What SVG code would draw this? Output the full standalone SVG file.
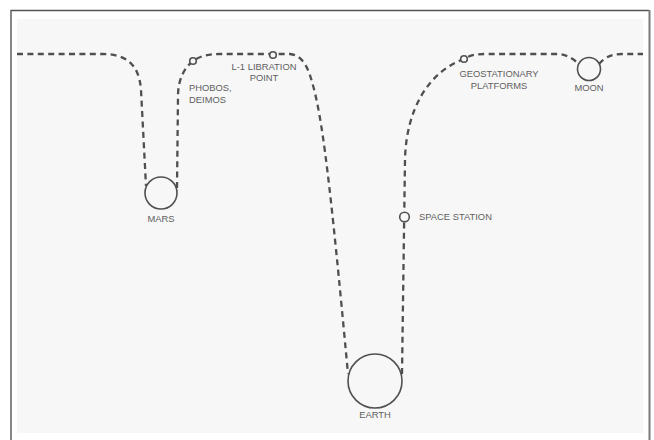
<svg xmlns="http://www.w3.org/2000/svg" width="654" height="440" viewBox="0 0 654 440">
  <defs>
    <style>
      .frame { fill: none; stroke: #555; stroke-width: 1.4; }
      .orbit { fill: none; stroke: #4f4f4f; stroke-width: 2.3; stroke-dasharray: 6 4.4; stroke-linecap: butt; }
      .body { fill: #f7f7f7; stroke: #505050; stroke-width: 1.6; }
      .point { fill: #f7f7f7; stroke: #505050; stroke-width: 1.6; }
      .label { font-family: "Liberation Sans", Arial, sans-serif; font-size: 9.4px; fill: #5e5e5e; }
    </style>
  </defs>

  <!-- page and frame -->
  <rect x="0" y="0" width="654" height="440" fill="#ffffff"/>
  <rect x="17" y="19" width="626" height="414" fill="#f7f7f7"/>
  <path class="frame" d="M11,440 V10.5 H649"/>
  <line x1="649.5" y1="10" x2="649.5" y2="440" stroke="#7a7a7a" stroke-width="2"/>

  <!-- dashed trajectory between the gravity wells -->
  <g id="connectors">
    <path class="orbit" d="M17,54 H102 C124,54 139,62 141,90 L146,186"/>
    <path class="orbit" d="M177,188 L178,96 C178,80 184,68 193,61 C200,56 208,54 220,54 H290 C300,55 307,63 312,82 C322,115 330,180 348,374"/>
    <path class="orbit" d="M402,374 L405,160 C406,110 428,72 464,59 C470,55 476,54 486,54 H556 C566,54 572,58 579,64"/>
    <path class="orbit" d="M599,64 C605,57 612,54 622,54 H643"/>
  </g>

  <g id="mars">
    <circle class="body" cx="161" cy="193" r="16"/>
    <text class="label" x="161" y="222" text-anchor="middle">MARS</text>
  </g>

  <g id="phobos-deimos">
    <circle class="point" cx="193" cy="61" r="3.3"/>
    <text class="label" x="189" y="91">PHOBOS,</text>
    <text class="label" x="189" y="103">DEIMOS</text>
  </g>

  <g id="l1-libration-point">
    <circle class="point" cx="273" cy="55" r="3.3"/>
    <text class="label" x="264" y="70" text-anchor="middle">L-1 LIBRATION</text>
    <text class="label" x="264" y="81" text-anchor="middle">POINT</text>
  </g>

  <g id="earth">
    <circle class="body" cx="375" cy="381" r="27"/>
    <text class="label" x="375" y="418" text-anchor="middle">EARTH</text>
  </g>

  <g id="space-station">
    <circle class="point" cx="404.5" cy="217" r="4.8"/>
    <text class="label" x="419" y="220">SPACE STATION</text>
  </g>

  <g id="geostationary-platforms">
    <circle class="point" cx="464" cy="59" r="3.3"/>
    <text class="label" x="499" y="77" text-anchor="middle">GEOSTATIONARY</text>
    <text class="label" x="499" y="89" text-anchor="middle">PLATFORMS</text>
  </g>

  <g id="moon">
    <circle class="body" cx="589" cy="69" r="11.5"/>
    <text class="label" x="589" y="91" text-anchor="middle">MOON</text>
  </g>
</svg>
